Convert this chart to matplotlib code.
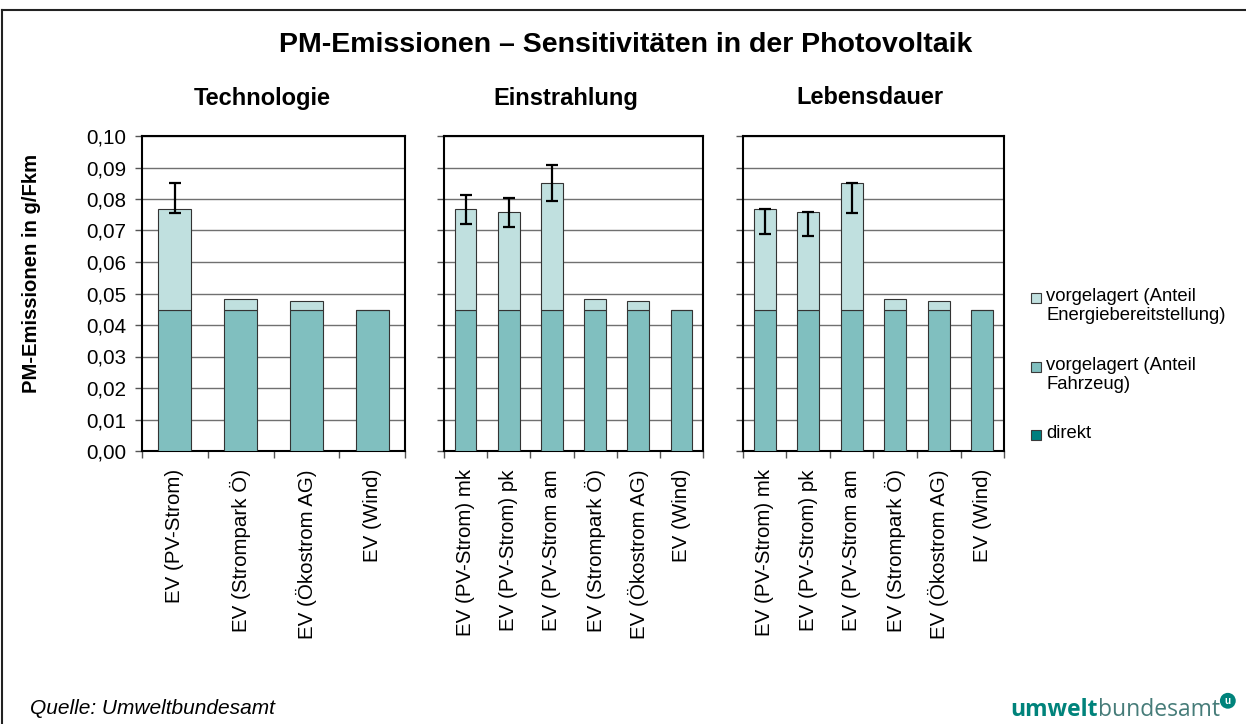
import matplotlib
matplotlib.use('Agg')
import matplotlib.pyplot as plt
from matplotlib.lines import Line2D
from matplotlib.patches import Rectangle
from matplotlib.ticker import FuncFormatter, FixedLocator

plt.rcParams['font.family'] = ['Liberation Sans', 'DejaVu Sans']

# Kategorien je Sensitivitaet
cat_tech = ['EV (PV-Strom)', 'EV (Strompark Ö)', 'EV (Ökostrom AG)', 'EV (Wind)']
cat_einstr = ['EV (PV-Strom) mk', 'EV (PV-Strom) pk', 'EV (PV-Strom am',
              'EV (Strompark Ö)', 'EV (Ökostrom AG)', 'EV (Wind)']
cat_leben = ['EV (PV-Strom) mk', 'EV (PV-Strom) pk', 'EV (PV-Strom am',
             'EV (Strompark Ö)', 'EV (Ökostrom AG)', 'EV (Wind)']

# PM-Emissionen in g/Fkm
direkt_tech = [0.0, 0.0, 0.0, 0.0]
fahrzeug_tech = [0.0447, 0.0447, 0.0447, 0.0447]
energie_tech = [0.0320, 0.0037, 0.0028, 0.0]

direkt_einstr = [0.0, 0.0, 0.0, 0.0, 0.0, 0.0]
fahrzeug_einstr = [0.0447, 0.0447, 0.0447, 0.0447, 0.0447, 0.0447]
energie_einstr = [0.0320, 0.0311, 0.0405, 0.0037, 0.0028, 0.0]

direkt_leben = [0.0, 0.0, 0.0, 0.0, 0.0, 0.0]
fahrzeug_leben = [0.0447, 0.0447, 0.0447, 0.0447, 0.0447, 0.0447]
energie_leben = [0.0320, 0.0311, 0.0405, 0.0037, 0.0028, 0.0]

# Schwankungsbreite (obere / untere Grenze), nur PV-Balken
hi_tech = [0.0852, None, None, None]
lo_tech = [0.0757, None, None, None]
hi_einstr = [0.0812, 0.0802, 0.0908, None, None, None]
lo_einstr = [0.0720, 0.0710, 0.0794, None, None, None]
hi_leben = [0.0767, 0.0758, 0.0852, None, None, None]
lo_leben = [0.0690, 0.0683, 0.0757, None, None, None]

titel = 'PM-Emissionen – Sensitivitäten in der Photovoltaik'
panel_titel = ['Technologie', 'Einstrahlung', 'Lebensdauer']
legende = ['vorgelagert (Anteil\nEnergiebereitstellung)',
           'vorgelagert (Anteil\nFahrzeug)',
           'direkt']

c_energie = '#c0e0df'
c_fahrzeug = '#80bfbf'
c_direkt = '#007f7f'

W, H = 1246, 724
fig = plt.figure(figsize=(W / 100, H / 100), dpi=100)


def px(x0, y0, x1, y1):
    return [x0 / W, 1 - y1 / H, (x1 - x0) / W, (y1 - y0) / H]


panels = [
    (px(142, 136, 405, 451), cat_tech, direkt_tech, fahrzeug_tech, energie_tech, hi_tech, lo_tech),
    (px(444, 136, 703, 451), cat_einstr, direkt_einstr, fahrzeug_einstr, energie_einstr, hi_einstr, lo_einstr),
    (px(743, 136, 1004, 451), cat_leben, direkt_leben, fahrzeug_leben, energie_leben, hi_leben, lo_leben),
]
titel_x = [262, 566, 870]

for k, (rect, cats, d, f, e, hi, lo) in enumerate(panels):
    ax = fig.add_axes(rect)
    x = list(range(len(cats)))
    kw = dict(width=0.5, edgecolor='#333333', linewidth=0.8, zorder=3)
    ax.bar(x, d, color=c_direkt, **kw)
    ax.bar(x, f, bottom=d, color=c_fahrzeug, **kw)
    base = [a + b for a, b in zip(d, f)]
    ax.bar(x, e, bottom=base, color=c_energie, **kw)
    for i in x:
        if hi[i] is None:
            continue
        mid = (hi[i] + lo[i]) / 2
        ax.errorbar(i, mid, yerr=(hi[i] - lo[i]) / 2, color='black',
                    elinewidth=1.6, capsize=4.3, capthick=1.6, zorder=5)
    ax.set_xlim(-0.5, len(cats) - 0.5)
    ax.set_ylim(0, 0.10)
    ax.set_yticks([i / 100 for i in range(11)])
    ax.yaxis.set_major_formatter(FuncFormatter(lambda v, p: f'{v:.2f}'.replace('.', ',')))
    ax.grid(axis='y', color='#707070', linewidth=1.0, zorder=0)
    ax.set_axisbelow(True)
    ax.set_xticks(x)
    ax.set_xticklabels(cats, rotation=90, fontsize=14.8, va='top', ha='center')
    ax.xaxis.set_minor_locator(FixedLocator([i - 0.5 for i in range(len(cats) + 1)]))
    ax.tick_params(axis='x', which='major', length=0, pad=13)
    ax.tick_params(axis='x', which='minor', length=5, width=1.0, color='#555555')
    ax.tick_params(axis='y', length=5, width=1.0, color='#555555', labelsize=14.8, pad=6)
    if k > 0:
        ax.tick_params(axis='y', labelleft=False)
    for s in ax.spines.values():
        s.set_linewidth(1.5)
        s.set_color('black')
    fig.text(titel_x[k] / W, 1 - 98 / H, panel_titel[k], ha='center', va='center',
             fontsize=17, fontweight='bold')

fig.text(626 / W, 1 - 45 / H, titel, ha='center', va='center', fontsize=20.5, fontweight='bold')
fig.text(32 / W, 1 - 273 / H, 'PM-Emissionen in g/Fkm', rotation=90, ha='center', va='center',
         fontsize=14.6, fontweight='bold')

# Legende (Quadrat auf Hoehe der ersten Zeile)
for lab, col, y in zip(legende, [c_energie, c_fahrzeug, c_direkt], [298, 367, 435]):
    fig.patches.append(Rectangle((1031 / W, 1 - (y + 5) / H), 10 / W, 10 / H,
                                 transform=fig.transFigure, facecolor=col,
                                 edgecolor='#3a3a3a', linewidth=0.8))
    fig.text(1046 / W, 1 - (y - 10) / H, lab, ha='left', va='top', fontsize=13.3,
             linespacing=1.15)

# Rahmen
fig.add_artist(Line2D([2 / W, 2 / W], [0, 1 - 10 / H], color='#222222', linewidth=1.5))
fig.add_artist(Line2D([2 / W, 1], [1 - 10 / H, 1 - 10 / H], color='#222222', linewidth=1.5))

fig.text(30 / W, 1 - 708 / H, 'Quelle: Umweltbundesamt', ha='left', va='center',
         fontsize=15, style='italic')

# Logo
t1 = fig.text(1010 / W, 1 - 716 / H, 'umwelt', ha='left', va='baseline', fontsize=16.5,
              fontweight='bold', color='#00837b', family=['Open Sans', 'DejaVu Sans'])
ax0 = fig.axes[0]
t2 = ax0.annotate('bundesamt', xy=(1, 0), xycoords=t1, ha='left', va='bottom', fontsize=16.5,
                  color='#467c79', family=['Open Sans', 'DejaVu Sans'], annotation_clip=False)
ax0.annotate('u', xy=(1, 1), xycoords=t2, xytext=(6, -2), textcoords='offset points',
             ha='center', va='center', fontsize=7, fontweight='bold', color='white',
             bbox=dict(boxstyle='circle,pad=0.3', fc='#00837b', ec='none'),
             annotation_clip=False)

fig.savefig('out.png', dpi=100)
